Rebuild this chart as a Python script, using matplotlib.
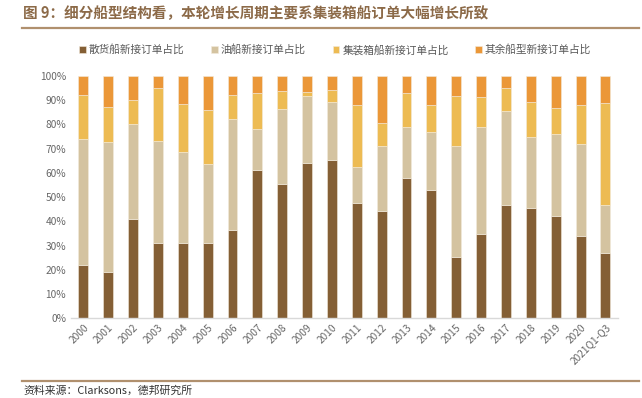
import matplotlib
matplotlib.use("Agg")
import matplotlib.pyplot as plt
import numpy as np

plt.rcParams['font.family'] = ['Noto Sans CJK SC', 'DejaVu Sans']

years = ['2000', '2001', '2002', '2003', '2004', '2005', '2006', '2007', '2008',
         '2009', '2010', '2011', '2012', '2013', '2014', '2015', '2016', '2017',
         '2018', '2019', '2020', '2021Q1-Q3']

# cumulative tops (%)
bulk_top = [22, 19, 41, 31, 31, 31, 36.5, 61.2, 55.6, 64.1, 65.1, 47.6, 44.3,
            57.8, 53.0, 25.4, 34.8, 46.9, 45.7, 42.4, 34.0, 27.1]
tanker_top = [74.1, 72.6, 80.1, 73.0, 68.8, 63.7, 82.1, 78.1, 86.2, 91.7, 89.4,
              62.4, 71.0, 79.1, 76.8, 71.0, 78.8, 85.4, 74.6, 76.2, 71.9, 46.6]
container_top = [92.2, 87.2, 90.1, 95.0, 88.4, 86.0, 92.2, 93.1, 93.8, 93.3,
                 94.2, 87.8, 80.6, 93.0, 87.9, 91.7, 91.3, 95.0, 89.1, 86.7,
                 88.0, 88.9]

bulk = np.array(bulk_top) / 100
tanker = (np.array(tanker_top) - np.array(bulk_top)) / 100
container = (np.array(container_top) - np.array(tanker_top)) / 100
other = 1 - bulk - tanker - container

labels = ['散货船新接订单占比', '油船新接订单占比', '集装箱船新接订单占比', '其余船型新接订单占比']
colors = ['#845F35', '#D4C3A0', '#EDBB53', '#EB9738']

fig = plt.figure(figsize=(6.42, 3.98), dpi=100)
ax = fig.add_axes([0.1104, 0.2003, 0.852, 0.609])

x = np.arange(len(years))
w = 0.4
bottom = np.zeros(len(years))
for vals, lab, c in zip([bulk, tanker, container, other], labels, colors):
    ax.bar(x, vals, w, bottom=bottom, color=c, label=lab,
           edgecolor='#F3EBDD', linewidth=0.4)
    bottom = bottom + vals

ax.set_xlim(-0.5, len(years) - 0.5)
ax.set_ylim(0, 1)
ax.set_yticks(np.arange(0, 1.01, 0.1))
ax.set_yticklabels([f'{int(round(v * 100))}%' for v in np.arange(0, 1.01, 0.1)])
ax.set_xticks(x)
ax.set_xticklabels(years, rotation=45, ha='right', rotation_mode='anchor')
ax.tick_params(axis='both', length=0, labelsize=7.3, colors='#666666')
ax.tick_params(axis='x', pad=3)
for s in ['top', 'right', 'left']:
    ax.spines[s].set_visible(False)
ax.spines['bottom'].set_color('#D9D9D9')
ax.spines['bottom'].set_linewidth(1.0)

leg = fig.legend(loc='center', bbox_to_anchor=(0.522, 0.875), ncol=4,
                 frameon=False, fontsize=7.7, handlelength=0.6, handleheight=0.6,
                 handletextpad=0.3, columnspacing=2.5)
for t in leg.get_texts():
    t.set_color('#595959')

fig.text(0.036, 0.967, '图 9：细分船型结构看，本轮增长周期主要系集装箱船订单大幅增长所致',
         fontsize=10.5, fontweight='bold', color='#8C6A48', va='center', ha='left')
fig.add_artist(plt.Line2D([0.034, 0.995], [0.93, 0.93], color='#B0906E',
                          linewidth=1.6, transform=fig.transFigure))
fig.add_artist(plt.Line2D([0.034, 0.995], [0.043, 0.043], color='#B0906E',
                          linewidth=1.6, transform=fig.transFigure))
fig.text(0.036, 0.018, '资料来源：Clarksons，德邦研究所', fontsize=7.8,
         color='#333333', va='center', ha='left')

fig.savefig('out.png', dpi=100)
